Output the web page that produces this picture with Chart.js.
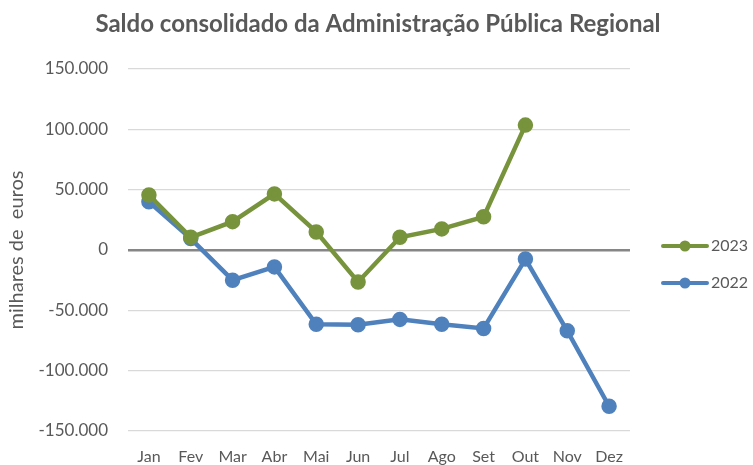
<!DOCTYPE html>
<html>
<head>
<meta charset="utf-8">
<script src="https://cdn.jsdelivr.net/npm/chart.js@4"></script>
<style>
  html, body { margin: 0; padding: 0; background: #fff; }
  #wrap { width: 753px; height: 465px; }
</style>
</head>
<body>
<div id="wrap"><canvas id="saldoChart" width="753" height="465"></canvas></div>
<script>
// data (milhares de euros)
const meses = ['Jan', 'Fev', 'Mar', 'Abr', 'Mai', 'Jun', 'Jul', 'Ago', 'Set', 'Out', 'Nov', 'Dez'];
const saldo2023 = [45500, 10500, 23500, 46500, 15000, -26500, 10500, 17500, 27500, 103500, null, null];
const saldo2022 = [40000, 9500, -25000, -14000, -61500, -62000, -57500, -61500, -65000, -7500, -67000, -129500];
const yTicks = [-150000, -100000, -50000, 0, 50000, 100000, 150000];

const titulo = 'Saldo consolidado da Administração Pública Regional';
const verde = '#77933c';
const azul = '#4f81bd';
const cinza = '#595959';
const fonte = 'Lato, "Open Sans", sans-serif';

function fmt(v) {
  return String(v).replace(/\B(?=(\d{3})+(?!\d))/g, '.');
}

// title + legend drawn by hand to match the original layout
const extras = {
  id: 'extras',
  afterDraw(chart) {
    const ctx = chart.ctx;
    ctx.save();
    ctx.fillStyle = cinza;
    // title spans about 572px in the original
    let size = 21;
    ctx.font = 'bold ' + size + 'px ' + fonte;
    size = Math.min(24, size * 572 / ctx.measureText(titulo).width);
    ctx.font = 'bold ' + size.toFixed(1) + 'px ' + fonte;
    ctx.textAlign = 'center';
    ctx.textBaseline = 'middle';
    ctx.fillText(titulo, 378, 24);

    const items = [[chart.data.datasets[0], 246], [chart.data.datasets[1], 283]];
    items.forEach(([ds, y]) => {
      ctx.strokeStyle = ds.borderColor;
      ctx.lineWidth = 4;
      ctx.lineCap = 'round';
      ctx.beginPath();
      ctx.moveTo(663, y);
      ctx.lineTo(707, y);
      ctx.stroke();
      ctx.fillStyle = ds.borderColor;
      ctx.beginPath();
      ctx.arc(685, y, 5.5, 0, Math.PI * 2);
      ctx.fill();
      ctx.fillStyle = cinza;
      ctx.font = '16px ' + fonte;
      ctx.textAlign = 'left';
      ctx.fillText(ds.label, 711, y);
    });
    ctx.restore();
  }
};

new Chart(document.getElementById('saldoChart'), {
  type: 'line',
  data: {
    labels: meses,
    datasets: [
      { label: '2023', data: saldo2023, borderColor: verde, backgroundColor: verde,
        borderWidth: 4.5, pointRadius: 5.5, pointHoverRadius: 5.5, tension: 0 },
      { label: '2022', data: saldo2022, borderColor: azul, backgroundColor: azul,
        borderWidth: 4.5, pointRadius: 5.5, pointHoverRadius: 5.5, tension: 0 }
    ]
  },
  options: {
    responsive: false,
    animation: false,
    layout: { padding: { top: 69, right: 123, bottom: 0, left: 5 } },
    plugins: {
      legend: { display: false },
      title: { display: false },
      tooltip: { enabled: false }
    },
    scales: {
      x: {
        offset: true,
        grid: { display: false },
        border: { display: false },
        ticks: { color: cinza, font: { family: fonte, size: 16 }, padding: 8 },
        afterFit(scale) { scale.height = 34; }
      },
      y: {
        min: -150000,
        max: 150000,
        afterBuildTicks(scale) { scale.ticks = yTicks.map(v => ({ value: v })); },
        border: { display: false },
        grid: {
          color: c => c.tick && c.tick.value === 0 ? '#868686' : '#d9d9d9',
          lineWidth: c => c.tick && c.tick.value === 0 ? 2.5 : 1.2,
          drawTicks: false
        },
        ticks: { color: cinza, font: { family: fonte, size: 17 }, padding: 20, callback: v => fmt(v) },
        title: { display: true, text: 'milhares de  euros', color: cinza, font: { family: fonte, size: 20 }, padding: { top: 0, bottom: 0 } },
        afterFit(scale) { scale.width = 123; }
      }
    }
  },
  plugins: [extras]
});
</script>
</body>
</html>
